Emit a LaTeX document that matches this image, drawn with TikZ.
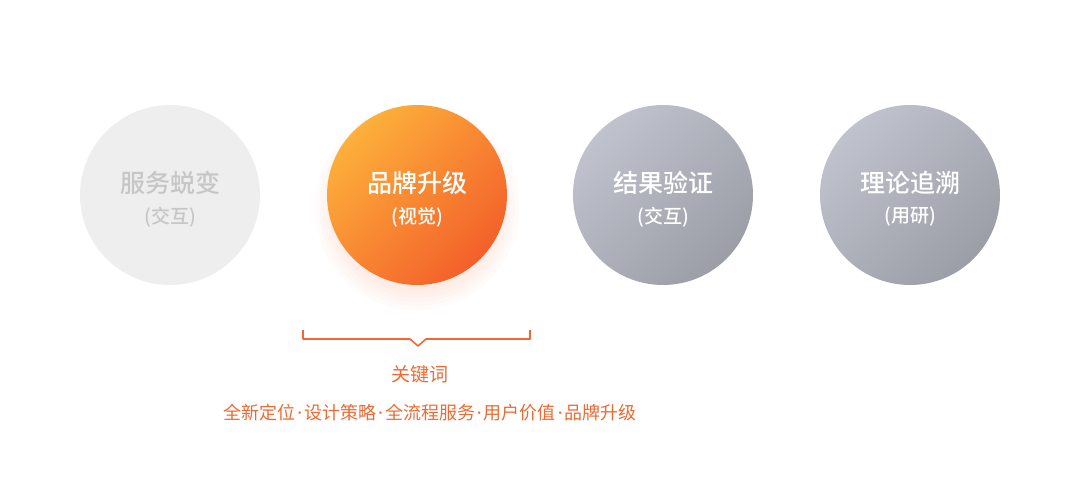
\documentclass[tikz,border=0pt]{standalone}
\usepackage{xcolor}
\usepackage{fontspec}
\setmainfont{Noto Sans CJK SC}[BoldFont={Noto Sans CJK SC Medium}]
\newfontfamily\dotfont{Noto Sans}
\definecolor{brandorange}{RGB}{240, 104, 50}
\definecolor{orangelight}{RGB}{253, 176, 59}
\definecolor{orangedark}{RGB}{243, 96, 42}
\definecolor{slatelight}{RGB}{192, 194, 205}
\definecolor{slatedark}{RGB}{155, 157, 167}
\definecolor{fadedfill}{RGB}{238, 238, 238}
\definecolor{fadedtext}{RGB}{198, 198, 198}
\newcommand{\kdot}{\hspace{2pt}{\dotfont ·}\hspace{2pt}}
\usetikzlibrary{positioning, calc}

\begin{document}
\begin{tikzpicture}[
    x=1pt, y=-1pt,
    stage/.style={circle, minimum size=180pt, inner sep=0pt},
    faded/.style={stage, fill=fadedfill},
    active/.style={stage, top color=orangelight, bottom color=orangedark, shading angle=45},
    done/.style={stage, top color=slatelight, bottom color=slatedark, shading angle=45},
    title/.style={font=\fontsize{25}{30}\selectfont\bfseries, text=white},
    subtitle/.style={font=\fontsize{19}{22}\selectfont\bfseries, text=white},
    keyword/.style={font=\fontsize{18}{22}\selectfont, text=brandorange}
]
    \useasboundingbox (0,0) rectangle (1080,500);

    % Soft glow under the active stage
    \foreach \r in {82,86,...,102}
        \fill[brandorange, opacity=0.025] (417,208) circle (\r);

    % Stages
    \node[faded] (s1) at (170,195) {};
    \node[active] (s2) at (417,195) {};
    \node[done] (s3) at (663,195) {};
    \node[done] (s4) at (910,195) {};

    % Stage labels
    \node[title, text=fadedtext] (t1) at (170,183) {服务蜕变};
    \node[subtitle, text=fadedtext] (u1) at (170,217) {(交互)};
    \node[title] (t2) at (417,183) {品牌升级};
    \node[subtitle] (u2) at (417,217) {(视觉)};
    \node[title] (t3) at (663,183) {结果验证};
    \node[subtitle] (u3) at (663,217) {(交互)};
    \node[title] (t4) at (910,183) {理论追溯};
    \node[subtitle] (u4) at (910,217) {(用研)};

    % Brace under the active stage
    \coordinate (bl) at (303,330);
    \coordinate (br) at (530,330);
    \draw[brandorange, line width=1.6pt, line join=round]
        (bl) -- ++(0,9) -- (410,339) -- (418,346) -- (426,339) -- (530,339) -- (br);

    % Keywords
    \node[keyword, font=\fontsize{19}{22}\selectfont] (kw) at (420,374) {关键词};
    \node[keyword] (kl) at (430,413) {全新定位\kdot 设计策略\kdot 全流程服务\kdot 用户价值\kdot 品牌升级};
\end{tikzpicture}
\end{document}
